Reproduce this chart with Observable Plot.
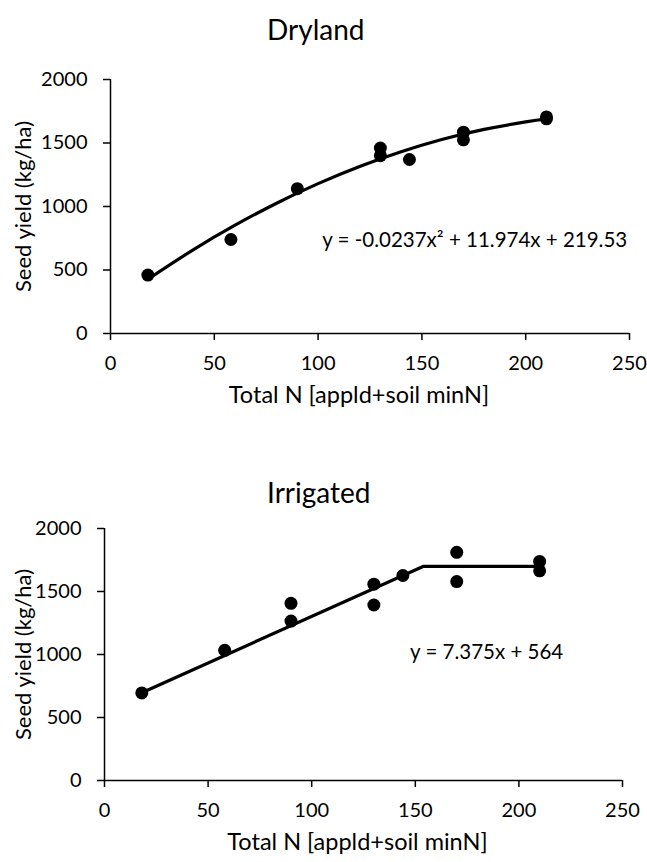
<!DOCTYPE html>
<html><head><meta charset="utf-8">
<script src="https://cdn.jsdelivr.net/npm/d3@7"></script>
<script src="https://cdn.jsdelivr.net/npm/@observablehq/plot@0.6"></script>
<style>
body{margin:0;background:#fff;font-family:Lato,sans-serif;}
#wrap{position:relative;width:647px;height:862px;overflow:hidden;background:#fff;}
.chart{position:absolute;left:0;}
.title{position:absolute;font-size:28px;color:#000;text-align:left;line-height:34px;white-space:nowrap;}
</style></head><body>
<div id="wrap">
<div class="chart" id="top" style="top:0"></div>
<div class="chart" id="bot" style="top:431px"></div>
<div class="title" style="top:12px;left:267px">Dryland</div>
<div class="title" style="top:475px;left:267px">Irrigated</div>
</div>
<script>
// ---- data ----
const xTicks = [0, 50, 100, 150, 200, 250];
const yTicks = [0, 500, 1000, 1500, 2000];
const xLabel = "Total N [appld+soil minN]";
const yLabel = "Seed yield (kg/ha)";

const dryN = [18, 58, 90, 130, 130, 144, 170, 170, 210, 210];
const dryYield = [460, 740, 1140, 1460, 1400, 1370, 1585, 1525, 1705, 1690];
const dryFitN = [18, 40, 60, 80, 100, 120, 140, 160, 180, 200, 210];
const dryFitYield = [427, 661, 853, 1026, 1180, 1315, 1431, 1529, 1607, 1666, 1689];
const dryEq = "y = -0.0237x\u00B2 + 11.974x + 219.53";
const dryEqPos = [102, 731];

const irrN = [18, 58, 90, 90, 130, 130, 144, 170, 170, 210, 210];
const irrYield = [695, 1033, 1406, 1265, 1558, 1393, 1627, 1811, 1579, 1739, 1664];
const irrFitN = [18, 154, 210];
const irrFitYield = [697, 1700, 1700];
const irrEq = "y = 7.375x + 564";
const irrEqPos = [147.5, 1020];

function chart(cfg) {
  const pts = cfg.n.map((n, i) => ({n, y: cfg.y[i]}));
  const fit = cfg.fn.map((n, i) => ({n, y: cfg.fy[i]}));
  const eq = [{n: cfg.eqPos[0], y: cfg.eqPos[1], t: cfg.eq}];
  return Plot.plot({
    width: 647,
    height: 431,
    marginLeft: cfg.ml, marginRight: cfg.mr, marginTop: cfg.mt, marginBottom: cfg.mb,
    style: {fontFamily: "Lato, sans-serif", fontSize: "20px", color: "#000", background: "none", overflow: "visible"},
    x: {domain: [0, 250], nice: false},
    y: {domain: [0, 2000], nice: false},
    marks: [
      Plot.axisY({ticks: yTicks, tickFormat: d => String(d), tickSize: 7, tickPadding: 16, strokeWidth: 1.5, label: null, fontSize: 20}),
      Plot.axisX({ticks: xTicks, tickFormat: d => String(d), tickSize: 7, tickPadding: 15, strokeWidth: 1.5, label: null, fontSize: 20}),
      Plot.ruleY([0], {stroke: "#000", strokeWidth: 1.5}),
      Plot.ruleX([0], {stroke: "#000", strokeWidth: 1.5}),
      Plot.line(fit, {x: "n", y: "y", stroke: "#000", strokeWidth: 3.2, curve: cfg.curve}),
      Plot.dot(pts, {x: "n", y: "y", r: 6.5, fill: "#000", stroke: "none"}),
      Plot.text(eq, {x: "n", y: "y", text: "t", textAnchor: "start", fontSize: 20.5}),
      Plot.text([yLabel], {frameAnchor: "left", rotate: -90, dx: -(cfg.ml - 23), textAnchor: "middle", lineAnchor: "middle", fontSize: 22}),
      Plot.text([xLabel], {frameAnchor: "bottom", dy: 62, dx: cfg.xlDx, textAnchor: "middle", lineAnchor: "middle", fontSize: 23.5})
    ]
  });
}

document.getElementById("top").appendChild(chart({
  n: dryN, y: dryYield, fn: dryFitN, fy: dryFitYield, eq: dryEq, eqPos: dryEqPos,
  curve: "natural", ml: 110, mr: 18, mt: 79, mb: 98, xlDx: -11
}));
document.getElementById("bot").appendChild(chart({
  n: irrN, y: irrYield, fn: irrFitN, fy: irrFitYield, eq: irrEq, eqPos: irrEqPos,
  curve: "linear", ml: 104, mr: 25, mt: 97, mb: 82, xlDx: -6
}));
</script>
</body></html>
